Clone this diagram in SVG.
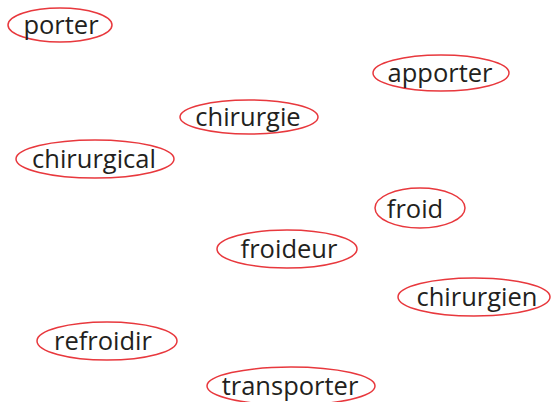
<svg xmlns="http://www.w3.org/2000/svg" width="552" height="402" viewBox="0 0 552 402">
<style>
.n ellipse{fill:#fff;stroke:#e8383d;stroke-width:1.5}
.n text{font-family:"Open Sans","Noto Sans",sans-serif;font-size:25.5px;fill:#231f20;text-anchor:middle}
</style>
<rect width="552" height="402" fill="#fff"/>
<g id="connectors"/>
<g id="porter" class="n"><ellipse cx="60" cy="25" rx="52" ry="17"/><text x="61" y="34">porter</text></g>
<g id="apporter" class="n"><ellipse cx="441" cy="73" rx="68" ry="18"/><text x="440" y="82">apporter</text></g>
<g id="chirurgie" class="n"><ellipse cx="249" cy="117" rx="69" ry="17"/><text x="248" y="126">chirurgie</text></g>
<g id="chirurgical" class="n"><ellipse cx="95" cy="159" rx="79" ry="19"/><text x="94" y="168">chirurgical</text></g>
<g id="froid" class="n"><ellipse cx="420" cy="208" rx="45" ry="20"/><text x="415" y="218">froid</text></g>
<g id="froideur" class="n"><ellipse cx="287" cy="249" rx="70" ry="19"/><text x="289" y="258">froideur</text></g>
<g id="chirurgien" class="n"><ellipse cx="474" cy="297" rx="76" ry="19"/><text x="477" y="306">chirurgien</text></g>
<g id="refroidir" class="n"><ellipse cx="107" cy="341" rx="70" ry="19"/><text x="103" y="350">refroidir</text></g>
<g id="transporter" class="n"><ellipse cx="291" cy="386" rx="84" ry="19"/><text x="290" y="395">transporter</text></g>
</svg>
